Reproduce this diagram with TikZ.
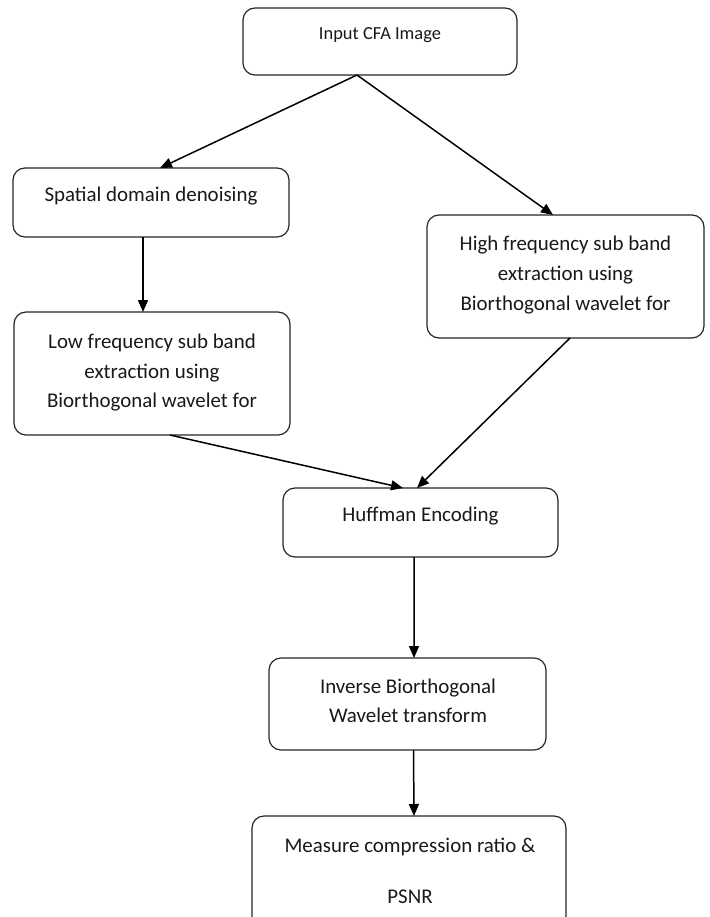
\documentclass[tikz,border=0pt]{standalone}
\usepackage{fontspec}
\setmainfont{Carlito}
\usetikzlibrary{arrows.meta,calc}
\tikzset{
  box/.style={draw=black!85, line width=1.2bp, rounded corners=12bp, inner sep=0pt, outer sep=0pt, fill=white},
  lbl/.style={anchor=base, inner sep=0pt, font=\fontsize{21}{24}\selectfont, text=black!90},
  conn/.style={draw=black, line width=1.5bp, -{Triangle[length=12bp,width=10bp]}}
}
\begin{document}
\begin{tikzpicture}[x=1bp,y=-1bp]
\useasboundingbox (0,0) rectangle (710,917);
\begin{scope}
\clip (0,0) rectangle (710,917);
\node[box, minimum width=274bp, minimum height=67bp] (b1) at (380,41.5) {};
\node[box, minimum width=276bp, minimum height=69bp] (b2) at (151,202.5) {};
\node[box, minimum width=277bp, minimum height=123bp] (b3) at (565.5,276.5) {};
\node[box, minimum width=276bp, minimum height=123bp] (b4) at (152,373.5) {};
\node[box, minimum width=275bp, minimum height=69bp] (b5) at (420.5,522.5) {};
\node[box, minimum width=277bp, minimum height=92bp] (b6) at (407.5,704) {};
\node[box, minimum width=314bp, minimum height=114bp] (b7) at (409,873) {};
\end{scope}

\node[lbl, font=\fontsize{18.5}{22}\selectfont] (t1) at (380,39) {Input CFA Image};
\node[lbl] (t2) at (151,201) {Spatial domain denoising};
\node[lbl] (t3a) at (565.5,250) {High frequency sub band};
\node[lbl] (t3b) at (565.5,280) {extraction using};
\node[lbl] (t3c) at (565.5,310) {Biorthogonal wavelet for};
\node[lbl] (t4a) at (152,348) {Low frequency sub band};
\node[lbl] (t4b) at (152,378) {extraction using};
\node[lbl] (t4c) at (152,407) {Biorthogonal wavelet for};
\node[lbl] (t5) at (420.5,521) {Huffman Encoding};
\node[lbl] (t6a) at (408,693) {Inverse Biorthogonal};
\node[lbl] (t6b) at (408,722) {Wavelet transform};
\node[lbl] (t7a) at (410,852) {Measure compression ratio \&};
\node[lbl] (t7b) at (410,903) {PSNR};

\draw[conn] ($(b1.south)+(-23,0)$) -- ($(b2.north)+(9,0)$);
\draw[conn] ($(b1.south)+(-23,0)$) -- ($(b3.north)+(-12.5,0)$);
\draw[conn] ($(b2.south)+(-8,0)$) -- ($(b4.north)+(-9,0)$);
\draw[conn] ($(b4.south)+(18,0)$) -- ($(b5.north)+(-17.5,0)$);
\draw[conn] ($(b3.south)+(4.5,0)$) -- ($(b5.north)+(-3.5,0)$);
\draw[conn] ($(b5.south)+(-6.5,0)$) -- ($(b6.north)+(6.5,0)$);
\draw[conn] ($(b6.south)+(6,0)$) -- ($(b7.north)+(5,0)$);
\end{tikzpicture}
\end{document}
